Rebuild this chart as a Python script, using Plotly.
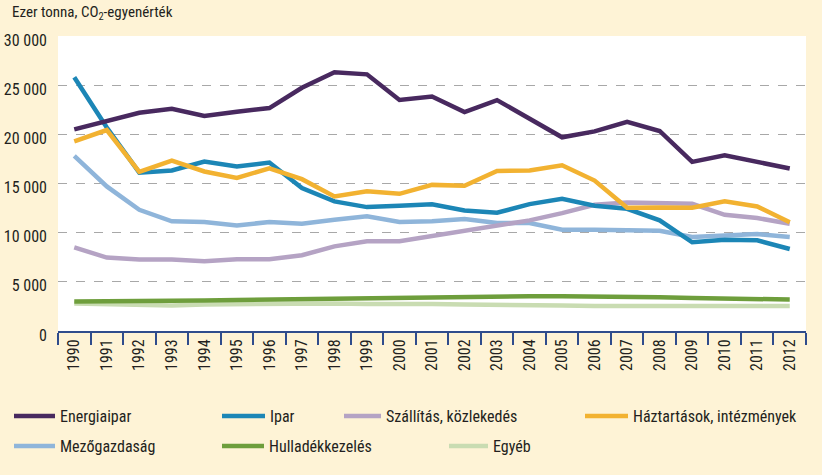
import plotly.graph_objects as go

years = [str(y) for y in range(1990, 2013)]

energiaipar = [20500, 21400, 22200, 22600, 21860, 22300, 22670, 24730, 26320, 26100, 23500, 23850,
               22260, 23480, 21620, 19700, 20300, 21280, 20340, 17200, 17870, 17200, 16520]
ipar = [25800, 20700, 16100, 16320, 17230, 16720, 17130, 14530, 13180, 12600, 12740, 12880,
        12260, 12030, 12900, 13440, 12740, 12430, 11250, 9020, 9290, 9220, 8340]
szallitas = [8510, 7470, 7260, 7260, 7090, 7300, 7300, 7700, 8610, 9120, 9120, 9650,
             10240, 10740, 11250, 11990, 12840, 13070, 13000, 12940, 11820, 11490, 10910]
haztartasok = [19290, 20440, 16180, 17330, 16220, 15570, 16550, 15440, 13680, 14220, 13950, 14860,
               14760, 16280, 16320, 16860, 15300, 12530, 12570, 12530, 13180, 12670, 11050]
mezogazdasag = [17800, 14700, 12330, 11150, 11080, 10740, 11080, 10910, 11320, 11660, 11080, 11150,
                11390, 10980, 10980, 10300, 10300, 10240, 10200, 9560, 9760, 9860, 9560]
hulladek = [3000, 3000, 3000, 3050, 3100, 3150, 3200, 3250, 3280, 3300, 3350, 3380,
            3420, 3480, 3530, 3530, 3520, 3480, 3420, 3350, 3300, 3150, 3200]
egyeb = [2800, 2700, 2600, 2600, 2700, 2750, 2800, 2800, 2800, 2750, 2800, 2750,
         2700, 2700, 2650, 2600, 2550, 2550, 2650, 2650, 2650, 2600, 2550]

y_ticks = [0, 5000, 10000, 15000, 20000, 25000, 30000]

FONT = "Roboto Condensed, Arial Narrow, sans-serif"
TXT = "#231F20"

# (name, data, color, legend id, legend-line start px, legend-text start px, row centre px)
series = [
    ("Egyéb", egyeb, "#C9DCB2", "legend7", 442, 493, 445),
    ("Hulladékkezelés", hulladek, "#6E9E3C", "legend6", 215, 269, 445),
    ("Mezőgazdaság", mezogazdasag, "#8FB5DA", "legend5", 7, 60, 445),
    ("Szállítás, közlekedés", szallitas, "#B5A3C4", "legend3", 337, 386, 415),
    ("Ipar", ipar, "#1C86B6", "legend2", 215, 270, 415),
    ("Háztartások, intézmények", haztartasok, "#F2B231", "legend4", 578, 633, 415),
    ("Energiaipar", energiaipar, "#48295F", "legend", 7, 60, 415),
]

W, H = 822, 475
fig = go.Figure()
layout_legends = {}
for name, data, color, lg, line_x, text_x, row_y in series:
    fig.add_trace(go.Scatter(x=years, y=data, name=name, mode="lines",
                             line=dict(color=color, width=4.5), legend=lg))
    lx = line_x + 2
    layout_legends[lg] = dict(
        xref="container", yref="container",
        x=lx / W, y=1 - (row_y - 16) / H,
        xanchor="left", yanchor="top",
        itemwidth=max(30, text_x - lx - 10),
        bgcolor="rgba(0,0,0,0)", borderwidth=0,
        font=dict(family=FONT, size=16, color=TXT),
        orientation="h",
    )

fig.update_layout(
    width=W, height=H,
    margin=dict(l=58, r=16, t=36, b=144, autoexpand=False),
    paper_bgcolor="#FEF3D6",
    plot_bgcolor="#FFFFFF",
    separators=". ",
    font=dict(family=FONT, size=16, color=TXT),
    showlegend=True,
    **layout_legends,
)

fig.update_xaxes(
    type="category", range=[-0.5, 22.5], automargin=False,
    showline=True, linecolor="#2F4C8C", linewidth=2,
    ticks="outside", ticklen=12, tickwidth=2, tickcolor="#2F4C8C",
    tickson="boundaries", tickangle=-90,
    showgrid=False, tickfont=dict(family=FONT, size=16, color=TXT),
)
fig.update_yaxes(
    range=[0, 30000], tickvals=y_ticks, tickformat=",d", automargin=False,
    showgrid=True, gridcolor="#A8A8A8", griddash="dash", gridwidth=1,
    zeroline=False, showline=False, ticks="",
    ticklabelstandoff=10, ticklabelshift=4,
    tickfont=dict(family=FONT, size=16, color=TXT),
)

fig.add_annotation(
    text="Ezer tonna, CO<sub>2</sub>-egyenérték",
    xref="paper", yref="paper", x=0, y=1, xshift=-48, yshift=11,
    xanchor="left", yanchor="bottom", showarrow=False,
    font=dict(family=FONT, size=15, color=TXT),
)

fig.write_html("out.html", config={"displayModeBar": False},
               post_script="document.body.style.margin='0';")
